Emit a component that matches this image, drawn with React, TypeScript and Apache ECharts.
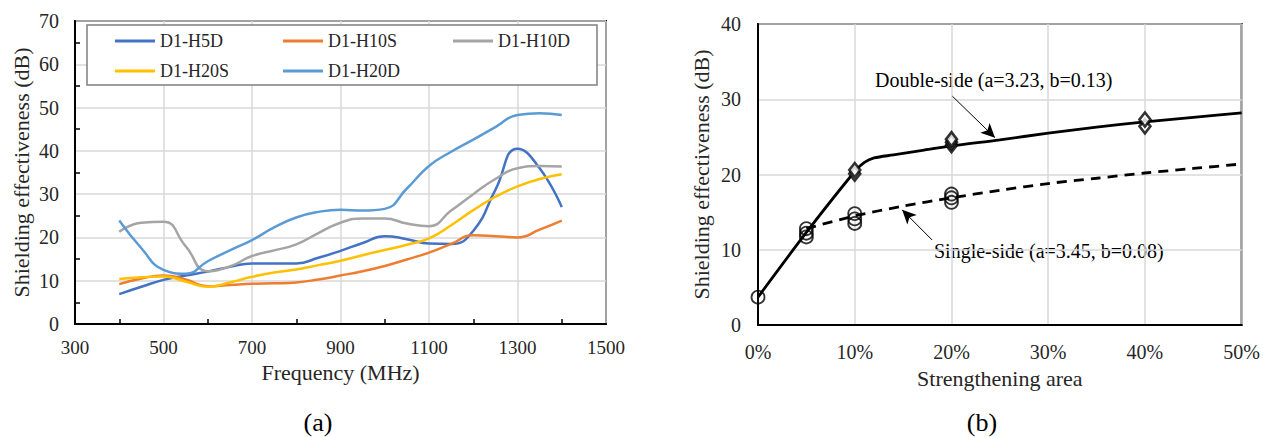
import React, { useEffect, useRef } from "react";
import * as echarts from "echarts";

// ---------- Panel (a): shielding effectiveness vs frequency ----------
const freq = [400, 450, 500, 550, 600, 650, 700, 750, 800, 850, 900, 950, 1000, 1050, 1100, 1150, 1200, 1250, 1300, 1350, 1400];
const h5d = [6.9, 8.6, 10.2, 11.2, 12.1, 13.2, 14.0, 14.0, 14.0, 15.3, 16.9, 18.7, 20.3, 19.6, 18.6, 18.5, 21.5, 31.0, 40.5, 36.0, 27.0];
const h10s = [9.2, 10.5, 11.2, 10.3, 8.7, 9.0, 9.3, 9.4, 9.6, 10.3, 11.2, 12.2, 13.4, 14.9, 16.5, 18.5, 20.5, 20.3, 20.0, 21.8, 23.9];
const h10d = [21.3, 23.4, 23.6, 18.0, 12.2, 13.3, 15.7, 17.0, 18.4, 21.0, 23.4, 24.4, 24.4, 23.2, 22.6, 26.2, 30.0, 33.5, 36.0, 36.5, 36.4];
const h20s = [10.4, 10.8, 11.0, 9.8, 8.6, 9.6, 10.9, 11.9, 12.6, 13.6, 14.6, 15.9, 17.1, 18.3, 19.8, 22.8, 26.3, 29.4, 31.8, 33.5, 34.6];
const h20d = [23.9, 17.5, 12.5, 11.6, 14.5, 17.0, 19.4, 22.3, 24.6, 25.9, 26.4, 26.2, 26.6, 31.3, 36.5, 39.8, 42.6, 45.5, 48.3, 48.7, 48.3];
const seriesNames = ["D1-H5D", "D1-H10S", "D1-H10D", "D1-H20S", "D1-H20D"];
const seriesValues = [h5d, h10s, h10d, h20s, h20d];
const seriesColors = ["#4472C4", "#ED7D31", "#A5A5A5", "#FFC000", "#5B9BD5"];

// ---------- Panel (b): shielding effectiveness vs strengthening area ----------
const doubleFit: number[][] = [[0, 3.7], [5, 12.3], [10, 20.4], [11, 21.6], [12, 22.2], [14, 22.6], [17, 23.2], [20, 23.8], [25, 24.6], [30, 25.5], [35, 26.3], [40, 27.0], [45, 27.6], [50, 28.2]];
const singleFit: number[][] = [[5, 12.8], [10, 14.5], [15, 15.8], [20, 16.9], [25, 17.9], [30, 18.8], [35, 19.5], [40, 20.2], [45, 20.8], [50, 21.4]];
const singlePoints: number[][] = [[0, 3.7], [5, 11.7], [5, 12.2], [5, 12.8], [10, 13.5], [10, 14.1], [10, 14.8], [20, 16.3], [20, 16.9], [20, 17.4]];
const doublePoints: number[][] = [[10, 20.1], [10, 20.6], [20, 23.9], [20, 24.3], [20, 24.7], [40, 26.4], [40, 27.3]];
const doubleLabel = "Double-side (a=3.23, b=0.13)";
const singleLabel = "Single-side (a=3.45, b=0.08)";

const FONT = '"Liberation Serif", "Times New Roman", serif';

export default function App() {
  const ref = useRef<HTMLDivElement>(null);

  useEffect(() => {
    if (!ref.current) return;
    const chart = echarts.init(ref.current, null, { renderer: "svg" });

    const axisLine = { show: true, lineStyle: { color: "#000", width: 2 } };
    const splitLine = { show: true, lineStyle: { color: "#d9d9d9", width: 1.5 } };
    const labelStyle = (size: number) => ({ fontFamily: FONT, fontSize: size, color: "#262626" });
    const nameStyle = { fontFamily: FONT, fontSize: 22, color: "#262626" };

    const legendCols = [115, 283, 453];
    const legendRows = [31, 61];
    const legendPos = [[0, 0], [1, 0], [2, 0], [0, 1], [1, 1]];
    const legends = seriesNames.map((n, i) => ({
      data: [n],
      left: legendCols[legendPos[i][0]],
      top: legendRows[legendPos[i][1]],
      padding: 0,
      icon: "rect",
      itemWidth: 40,
      itemHeight: 3,
      selectedMode: false,
      z: 6,
      textStyle: { fontFamily: FONT, fontSize: 18, color: "#262626", lineHeight: 20 },
    }));

    const lineSeries = seriesNames.map((n, i) => ({
      name: n,
      type: "line",
      xAxisIndex: 0,
      yAxisIndex: 0,
      smooth: 0.5,
      smoothMonotone: "none",
      showSymbol: false,
      symbol: "none",
      color: seriesColors[i],
      lineStyle: { width: 2.5, color: seriesColors[i] },
      data: freq.map((f, j) => [f, seriesValues[i][j]]),
      z: 2,
    }));

    const arrowStyle = { color: "#000", width: 1, type: "solid" };

    const option: any = {
      animation: false,
      backgroundColor: "#fff",
      legend: legends,
      grid: [
        { left: 75, top: 21, width: 531, height: 303, show: true, borderColor: "#000", borderWidth: 2, backgroundColor: "transparent" },
        { left: 758, top: 24, width: 485, height: 301, show: true, borderColor: "#000", borderWidth: 2, backgroundColor: "transparent" },
      ],
      xAxis: [
        {
          type: "value",
          gridIndex: 0,
          min: 300,
          max: 1500,
          interval: 200,
          axisLine,
          axisTick: { show: false, inside: true },
          minorTick: { show: true, splitNumber: 2, length: 5, lineStyle: { color: "#000", width: 1.5 } },
          splitLine,
          axisLabel: { ...labelStyle(19), margin: 14, formatter: (v: number) => String(v) },
          name: "Frequency (MHz)",
          nameLocation: "middle",
          nameGap: 33,
          nameTextStyle: nameStyle,
        },
        {
          type: "value",
          gridIndex: 1,
          min: 0,
          max: 50,
          interval: 10,
          axisLine,
          axisTick: { show: false },
          splitLine,
          axisLabel: { ...labelStyle(20), margin: 17, formatter: (v: number) => v + "%" },
          name: "Strengthening area",
          nameLocation: "middle",
          nameGap: 42,
          nameTextStyle: nameStyle,
        },
      ],
      yAxis: [
        {
          type: "value",
          gridIndex: 0,
          min: 0,
          max: 70,
          interval: 10,
          axisLine,
          axisTick: { show: false, inside: true },
          minorTick: { show: true, splitNumber: 2, length: 5, lineStyle: { color: "#000", width: 1.5 } },
          splitLine,
          axisLabel: { ...labelStyle(20), margin: 16 },
          name: "Shielding effectiveness (dB)",
          nameLocation: "middle",
          nameGap: 43,
          nameTextStyle: nameStyle,
        },
        {
          type: "value",
          gridIndex: 1,
          min: 0,
          max: 40,
          interval: 10,
          axisLine,
          axisTick: { show: false },
          splitLine,
          axisLabel: { ...labelStyle(20), margin: 17 },
          name: "Shielding effectiveness (dB)",
          nameLocation: "middle",
          nameGap: 46,
          nameTextStyle: nameStyle,
        },
      ],
      series: [
        ...lineSeries,
        {
          name: "Double-side fit",
          type: "line",
          xAxisIndex: 1,
          yAxisIndex: 1,
          smooth: 0.3,
          showSymbol: false,
          symbol: "none",
          color: "#000",
          lineStyle: { width: 2.8, color: "#000" },
          data: doubleFit,
          z: 3,
          markLine: {
            silent: true,
            symbol: ["none", "arrow"],
            symbolSize: [10, 14],
            label: { show: false },
            lineStyle: arrowStyle,
            data: [[{ coord: [20.1, 30.4] }, { coord: [24.5, 24.9] }]],
          },
        },
        {
          name: "Single-side fit",
          type: "line",
          xAxisIndex: 1,
          yAxisIndex: 1,
          smooth: 0.3,
          showSymbol: false,
          symbol: "none",
          color: "#000",
          lineStyle: { width: 2.8, color: "#000", type: [10, 7] },
          data: singleFit,
          z: 3,
          markLine: {
            silent: true,
            symbol: ["none", "arrow"],
            symbolSize: [10, 14],
            label: { show: false },
            lineStyle: arrowStyle,
            data: [[{ coord: [18.0, 11.3] }, { coord: [14.9, 15.3] }]],
          },
        },
        {
          name: "Single-side",
          type: "scatter",
          xAxisIndex: 1,
          yAxisIndex: 1,
          symbol: "circle",
          symbolSize: 13,
          itemStyle: { color: "rgba(255,255,255,0)", borderColor: "#000", borderWidth: 1.8 },
          data: singlePoints,
          z: 4,
        },
        {
          name: "Double-side",
          type: "scatter",
          xAxisIndex: 1,
          yAxisIndex: 1,
          symbol: "diamond",
          symbolSize: [11, 14],
          itemStyle: { color: "#fff", borderColor: "#000", borderWidth: 2.6 },
          data: doublePoints,
          z: 4,
        },
      ],
      graphic: [
        {
          type: "rect",
          shape: { x: 87, y: 25, width: 510, height: 60 },
          style: { fill: "#fff", stroke: "#7f7f7f", lineWidth: 1.5 },
          z: 3,
        },
        {
          type: "text",
          x: 875,
          y: 80,
          style: { text: doubleLabel, fontFamily: FONT, fontSize: 20, fill: "#000", verticalAlign: "middle" },
        },
        {
          type: "text",
          x: 934,
          y: 251,
          style: { text: singleLabel, fontFamily: FONT, fontSize: 20, fill: "#000", verticalAlign: "middle" },
        },
        {
          type: "text",
          x: 318,
          y: 422,
          style: { text: "(a)", fontFamily: FONT, fontSize: 26, fill: "#000", align: "center", verticalAlign: "middle" },
        },
        {
          type: "text",
          x: 982,
          y: 422,
          style: { text: "(b)", fontFamily: FONT, fontSize: 26, fill: "#000", align: "center", verticalAlign: "middle" },
        },
      ],
    };

    chart.setOption(option);
    return () => chart.dispose();
  }, []);

  return (
    <div
      ref={ref}
      style={{ position: "fixed", left: 0, top: 0, width: 1263, height: 437, background: "#fff" }}
    />
  );
}
